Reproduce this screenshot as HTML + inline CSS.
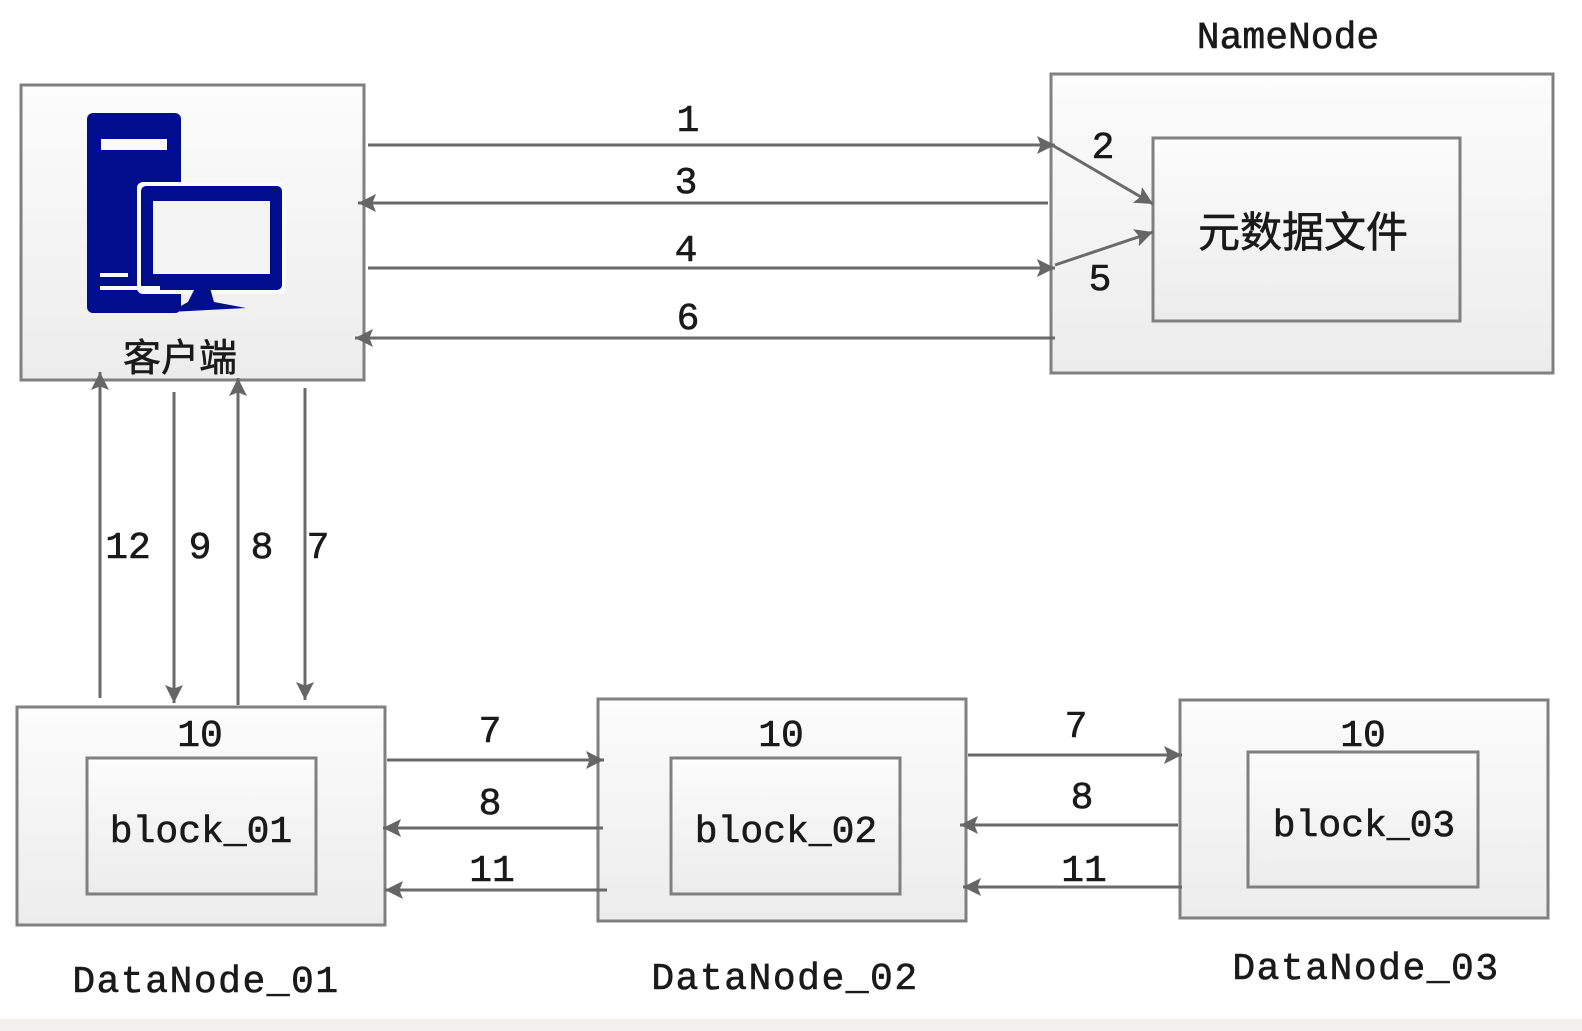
<!DOCTYPE html>
<html><head><meta charset="utf-8"><style>
html,body{margin:0;padding:0;background:#fff;width:1582px;height:1031px;overflow:hidden}
svg text{font-family:"Liberation Mono","Noto Sans CJK SC",monospace;fill:#1a1a1a;stroke:#1a1a1a;stroke-width:0.6}
</style></head><body>
<svg width="1582" height="1031" viewBox="0 0 1582 1031" xmlns="http://www.w3.org/2000/svg">
<defs>
<linearGradient id="g" x1="0" y1="0" x2="0" y2="1"><stop offset="0" stop-color="#fcfcfc"/><stop offset="1" stop-color="#ececec"/></linearGradient>
<marker id="b" viewBox="0 0 10 10" markerWidth="18" markerHeight="18" refX="10" refY="5" orient="auto" markerUnits="userSpaceOnUse"><path d="M0,0 L10,5 L0,10 L2,5 z" fill="#666"/></marker>
</defs>
<rect x="0" y="1019" width="1582" height="12" fill="#f1f0ec"/>
<g stroke="#808080" stroke-width="3" fill="url(#g)">
<rect x="21" y="85" width="343" height="295"/>
<rect x="1051" y="74" width="502" height="299"/>
<rect x="1153" y="138" width="307" height="183"/>
<rect x="17" y="707" width="368" height="218"/>
<rect x="87" y="758" width="229" height="136"/>
<rect x="598" y="699" width="368" height="222"/>
<rect x="671" y="758" width="229" height="136"/>
<rect x="1180" y="700" width="368" height="218"/>
<rect x="1248" y="752" width="230" height="135"/>
</g>
<g fill="#000e8e">
<rect x="87" y="113" width="94" height="200" rx="6"/>
<rect x="137" y="182" width="149" height="112" rx="6" fill="#fafafa"/>
<rect x="141" y="186" width="141" height="104" rx="5"/>
<path d="M195,288 L210,288 L214,302 L246,308 L170,312 L188,302 z"/>
</g>
<rect x="101" y="139" width="66" height="11" fill="#fafafa"/>
<rect x="153" y="201" width="117" height="73" fill="#f4f4f4"/>
<rect x="100" y="273" width="28" height="4" fill="#fafafa"/>
<rect x="100" y="286" width="60" height="4" fill="#fafafa"/>
<g stroke="#6a6a6a" stroke-width="3" fill="none" marker-end="url(#b)">
<line x1="368" y1="145" x2="1055" y2="145"/>
<line x1="1048" y1="203" x2="358" y2="203"/>
<line x1="368" y1="268" x2="1055" y2="268"/>
<line x1="1055" y1="338" x2="355" y2="338"/>
<line x1="1052" y1="145" x2="1153" y2="204"/>
<line x1="1055" y1="265" x2="1153" y2="232"/>
<line x1="100" y1="698" x2="100" y2="372"/>
<line x1="174" y1="392" x2="174" y2="703"/>
<line x1="238" y1="705" x2="238" y2="378"/>
<line x1="305" y1="388" x2="305" y2="700"/>
<line x1="387" y1="760" x2="604" y2="760"/>
<line x1="603" y1="828" x2="383" y2="828"/>
<line x1="607" y1="890" x2="385" y2="890"/>
<line x1="968" y1="755" x2="1182" y2="755"/>
<line x1="1178" y1="825" x2="960" y2="825"/>
<line x1="1182" y1="887" x2="963" y2="887"/>
</g>
<g font-size="38" text-anchor="middle">
<text x="688" y="131">1</text><text x="686" y="193">3</text><text x="686" y="261">4</text><text x="688" y="329">6</text>
<text x="1103" y="158">2</text><text x="1100" y="290">5</text>
<text x="128" y="558">12</text><text x="200" y="558">9</text><text x="262" y="558">8</text><text x="318" y="558">7</text>
<text x="490" y="742">7</text><text x="490" y="814">8</text><text x="492" y="881">11</text>
<text x="1076" y="737">7</text><text x="1082" y="808">8</text><text x="1084" y="881">11</text>
<text x="200" y="746">10</text><text x="781" y="746">10</text><text x="1363" y="746">10</text>
<text x="1288" y="48">NameNode</text>
<text x="201" y="842">block_01</text><text x="786" y="842">block_02</text><text x="1364" y="836">block_03</text>
<g letter-spacing="1.5">
<text x="206" y="992">DataNode_01</text><text x="785" y="989">DataNode_02</text><text x="1366" y="979">DataNode_03</text>
</g>
<text x="180" y="371" font-size="38" stroke-width="0.3" font-family="Noto Sans CJK SC,sans-serif">客户端</text>
<text x="1303" y="247" font-size="42" stroke-width="0.3" font-family="Noto Sans CJK SC,sans-serif">元数据文件</text>
</g>
</svg>
</body></html>
